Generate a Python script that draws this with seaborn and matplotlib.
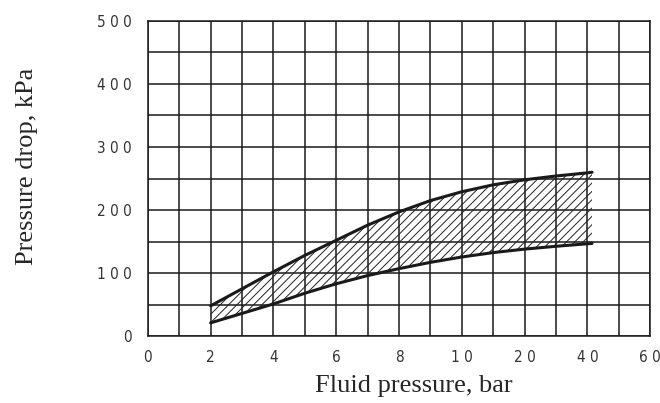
import numpy as np
import pandas as pd
import matplotlib
matplotlib.use("Agg")
import matplotlib.pyplot as plt
import seaborn as sns

# x axis ticks are equally spaced but not linear in bar
x_ticks = [0, 2, 4, 6, 8, 10, 20, 40, 60]
x_minor = [1, 3, 5, 7, 9, 15, 30, 50]
x_labels = ["0", "2", "4", "6", "8", "1 0", "2 0", "4 0", "6 0"]
y_ticks = [0, 100, 200, 300, 400, 500]
y_labels = ["0", "1 0 0", "2 0 0", "3 0 0", "4 0 0", "5 0 0"]

# (fluid pressure in bar, pressure drop in kPa)
pressure = [2, 3, 4, 5, 6, 7, 8, 9, 10, 15, 20, 30, 40, 41.5]
upper = [48, 75, 102, 128, 152, 176, 197, 215, 229, 240, 248, 254, 259, 260]
lower = [21, 36, 51, 68, 83, 96, 107, 117, 125.5, 132.5, 138, 142.5, 146.5, 147]

df = pd.DataFrame({"pressure": pressure, "upper": upper, "lower": lower})

sns.set_style("white")
plt.rcParams["hatch.linewidth"] = 0.7
plt.rcParams["hatch.color"] = "#222222"


def fwd(x):
    return np.interp(x, x_ticks, np.arange(len(x_ticks)))


def inv(u):
    return np.interp(u, np.arange(len(x_ticks)), x_ticks)


fig = plt.figure(figsize=(6.6, 4.03), dpi=100)
ax = fig.add_axes([0.224, 0.166, 0.761, 0.782])
ax.set_xscale("function", functions=(fwd, inv))

ax.fill_between(df["pressure"], df["lower"], df["upper"], facecolor="none",
                edgecolor="#222222", hatch="////", linewidth=0)
sns.lineplot(data=df, x="pressure", y="upper", color="#1a1a1a", lw=2.2, ax=ax)
sns.lineplot(data=df, x="pressure", y="lower", color="#1a1a1a", lw=2.2, ax=ax)

ax.set_xlim(0, 60)
ax.set_ylim(0, 500)
ax.set_xticks(x_ticks)
ax.set_xticks(x_minor, minor=True)
ax.set_xticklabels(x_labels)
ax.set_yticks(y_ticks)
ax.set_yticks(np.arange(50, 500, 100), minor=True)
ax.set_yticklabels(y_labels)

for lab in ax.get_xticklabels() + ax.get_yticklabels():
    lab.set_family("DejaVu Sans")
    lab.set_stretch("condensed")
    lab.set_fontsize(11)
    lab.set_color("#333333")
ax.tick_params(which="both", length=0)
ax.tick_params(axis="x", pad=10)
ax.tick_params(axis="y", pad=11.5)

ax.grid(True, which="both", color="#1a1a1a", lw=1.1)
for s in ax.spines.values():
    s.set_color("#1a1a1a")
    s.set_linewidth(1.1)

ax.set_xlabel("Fluid pressure, bar", family="Liberation Serif", fontsize=19)
ax.set_ylabel("Pressure drop, kPa", family="Liberation Serif", fontsize=19)
ax.xaxis.set_label_coords(0.530, -0.124)
ax.yaxis.set_label_coords(-0.218, 0.540)

fig.savefig("out.png", dpi=100)
